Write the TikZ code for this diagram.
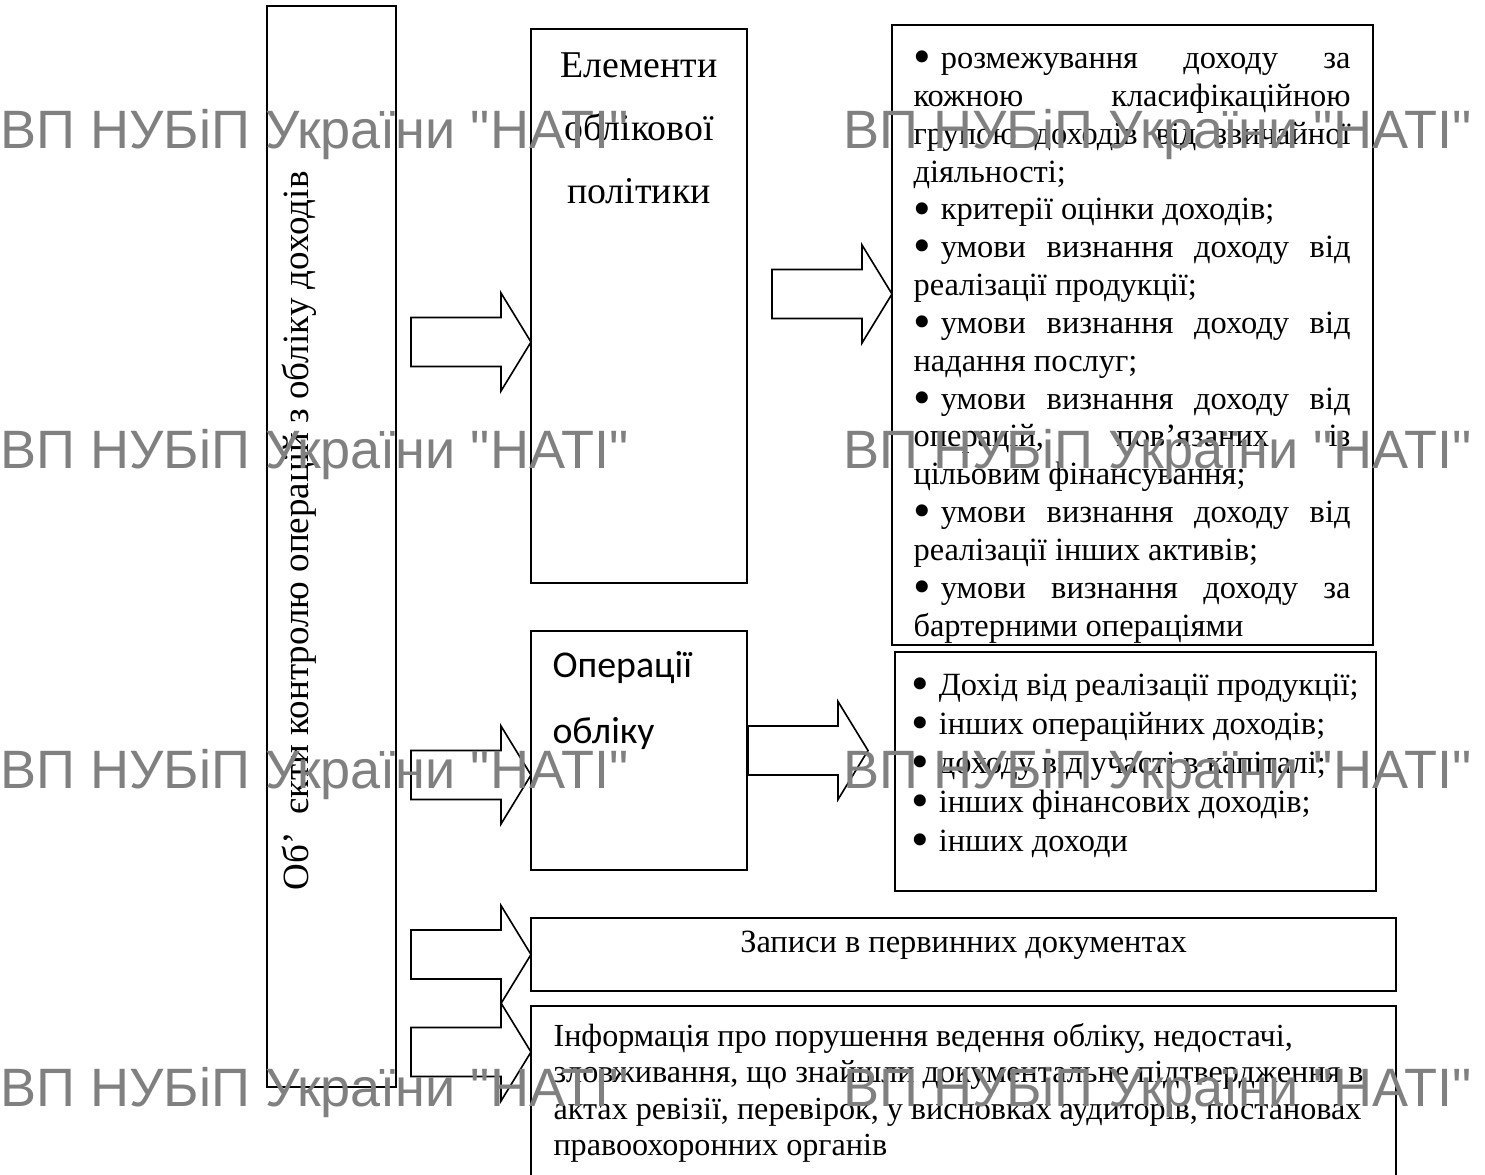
\documentclass[tikz,border=0pt]{standalone}
\usepackage{fontspec}
\usepackage{graphicx}
\setmainfont{Liberation Serif}
\newfontfamily\calfont{Carlito}
\newfontfamily\wmfont{Liberation Sans}
\usetikzlibrary{calc}
\newcommand{\bul}{\raisebox{-0.16em}{\scalebox{1.55}{•}}\hspace{0.3em}}

\begin{document}
\begin{tikzpicture}[
  x=0.37pt, y=-0.37pt,
  box/.style={draw,line width=0.75pt,inner sep=0pt,outer sep=0pt},
  txt/.style={inner sep=0pt,font=\fontsize{12pt}{14pt}\selectfont,execute at begin node={\parindent=0pt\tolerance=10000\hyphenpenalty=10000}},
  wmark/.style={inner sep=0pt,anchor=base west,text=gray,font=\wmfont\fontsize{20pt}{24pt}\selectfont},
  fatarrow/.pic={\draw[line width=0.6pt] (-120,-24.5) -- (-30,-24.5) -- (-30,-49) -- (0,0) -- (-30,49) -- (-30,24.5) -- (-120,24.5) -- cycle;}
]
  \useasboundingbox (0,0) rectangle (1485,1175);
  \node[box,minimum width=47.73pt,minimum height=399.97pt] (obj) at (331.5,546.5) {};
  \node[box,minimum width=79.92pt,minimum height=204.98pt] (ele) at (639,306) {};
  \node[box,minimum width=177.97pt,minimum height=229.4pt] (list1) at (1132.5,335) {};
  \node[box,minimum width=79.92pt,minimum height=88.43pt] (ops) at (639,750.5) {};
  \node[box,minimum width=177.97pt,minimum height=88.43pt] (list2) at (1135.5,771.5) {};
  \node[box,minimum width=320.05pt,minimum height=27.01pt] (rec) at (963.5,954.5) {};
  \node[box,minimum width=320.05pt,minimum height=66.23pt] (info) at (963.5,1095.5) {};

  \node[txt,rotate=90,font=\fontsize{13.7pt}{16pt}\selectfont] (objtxt) at (299,531) {Об’\hspace{0.5em}єкти контролю операцій з обліку доходів};
  \node[txt,anchor=north,align=center,font=\fontsize{14pt}{23.3pt}\selectfont] (eletxt) at ($(ele.north)+(0,4)$) {\strut Елементи\\облікової\\політики};
  \node[txt,anchor=north west,text width=161.7pt,align=justify] (list1txt) at ($(list1.north west)+(21,16.5)$) {\strut\bul розмежування доходу за\linebreak кожною класифікаційною\linebreak групою доходів від звичайної\linebreak діяльності;\par
    \bul критерії оцінки доходів;\par
    \bul умови визнання доходу від\linebreak реалізації продукції;\par
    \bul умови визнання доходу від\linebreak надання послуг;\par
    \bul умови визнання доходу від\linebreak операцій, пов’язаних із\linebreak цільовим фінансування;\par
    \bul умови визнання доходу від\linebreak реалізації інших активів;\par
    \bul умови визнання доходу за\linebreak бартерними операціями};
  \node[txt,anchor=north west,align=left,font=\calfont\fontsize{14pt}{24.4pt}\selectfont] (opstxt) at ($(ops.north west)+(21,0)$) {\strut Операції\\обліку};
  \node[txt,anchor=north west,align=left,font=\fontsize{12pt}{14.4pt}\selectfont] (list2txt) at ($(list2.north west)+(16,15.8)$) {\strut\bul Дохід від реалізації продукції;\\\bul інших операційних доходів;\\\bul доходу від участі в капіталі;\\\bul інших фінансових доходів;\\\bul інших доходи};
  \node[txt,anchor=base] (rectxt) at ($(rec.center)+(0,-2.5)$) {Записи в первинних документах};
  \node[txt,anchor=north west,align=left,font=\fontsize{11.9pt}{13.5pt}\selectfont] (infotxt) at ($(info.north west)+(22,14.2)$) {\strut Інформація про порушення ведення обліку, недостачі,\\зловживання, що знайшли документальне підтвердження в\\актах ревізії, перевірок, у висновках аудиторів, постановах\\правоохоронних органів};

  \pic at ($(ele.west)+(0,36)$) {fatarrow};
  \pic at ($(list1.west)+(0,-41)$) {fatarrow};
  \pic at ($(ops.west)+(0,24.5)$) {fatarrow};
  \pic at ($(ops.east)+(121,0)$) {fatarrow};
  \pic at (rec.west) {fatarrow};
  \pic at ($(info.north west)+(0,46)$) {fatarrow};

  \node[wmark] (wm1) at (0,148) {ВП НУБіП України "НАТІ"};
  \node[wmark] (wm2) at (843,148) {ВП НУБіП України "НАТІ"};
  \node[wmark] (wm3) at (0,468) {ВП НУБіП України "НАТІ"};
  \node[wmark] (wm4) at (843,468) {ВП НУБіП України "НАТІ"};
  \node[wmark] (wm5) at (0,788) {ВП НУБіП України "НАТІ"};
  \node[wmark] (wm6) at (843,788) {ВП НУБіП України "НАТІ"};
  \node[wmark] (wm7) at (0,1106) {ВП НУБіП України "НАТІ"};
  \node[wmark] (wm8) at (843,1106) {ВП НУБіП України "НАТІ"};
\end{tikzpicture}
\end{document}
